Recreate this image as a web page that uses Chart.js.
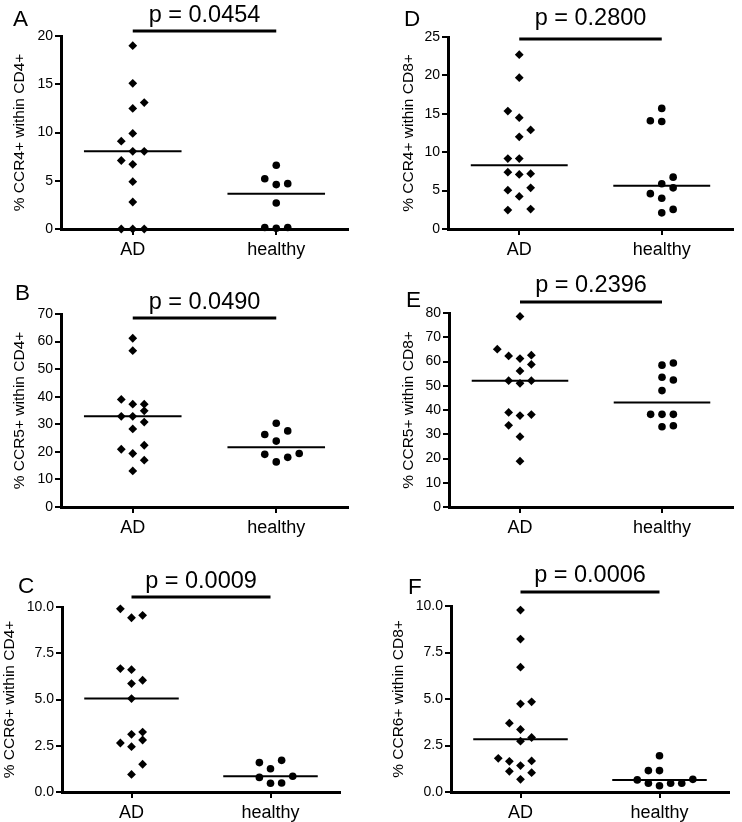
<!DOCTYPE html>
<html lang="en">
<head>
<meta charset="UTF-8" />
<title>CCR4 / CCR5 / CCR6 in AD vs healthy</title>
<script src="https://cdn.jsdelivr.net/npm/chart.js@4.4.1/dist/chart.umd.min.js"></script>
<style>
  html, body { margin: 0; padding: 0; background: #fff; }
  #wrap { position: relative; width: 742px; height: 822px; }
  #wrap canvas { position: absolute; }
</style>
</head>
<body>
<div id="wrap">
  <canvas id="cA" width="371" height="270" style="left:0;top:0"></canvas>
  <canvas id="cB" width="371" height="270" style="left:0;top:270px"></canvas>
  <canvas id="cC" width="371" height="282" style="left:0;top:540px"></canvas>
  <canvas id="cD" width="371" height="270" style="left:371px;top:0"></canvas>
  <canvas id="cE" width="371" height="270" style="left:371px;top:270px"></canvas>
  <canvas id="cF" width="371" height="282" style="left:371px;top:540px"></canvas>
</div>
<script>
const groups = ["AD", "healthy"];

// A - % CCR4+ within CD4+
const ccr4Cd4AD = [19.0, 15.1, 13.1, 12.5, 9.9, 9.1, 8.05, 8.05, 7.1, 6.7, 4.9, 2.8, 0, 0, 0];
const ccr4Cd4ADCol = [0, 0, 1, 0, 0, -1, 0, 1, -1, 0, 0, 0, -1, 0, 1];
const ccr4Cd4HC = [6.6, 5.2, 4.7, 4.6, 2.7, 0.15, 0.07, 0.15];
const ccr4Cd4HCCol = [0, -1, 1, 0, 0, -1, 0, 1];

// B - % CCR5+ within CD4+
const ccr5Cd4AD = [61.2, 56.7, 39.0, 37.3, 37.3, 34.9, 32.9, 32.9, 30.8, 28.3, 22.4, 20.95, 19.4, 17.0, 13.1];
const ccr5Cd4ADCol = [0, 0, -1, 0, 1, 1, -1, 0, 1, 0, 1, -1, 0, 1, 0];
const ccr5Cd4HC = [30.4, 27.6, 26.3, 23.9, 19.4, 19.1, 18.0, 16.35];
const ccr5Cd4HCCol = [0, 1, -1, 0, 2, -1, 1, 0];

// C - % CCR6+ within CD4+
const ccr6Cd4AD = [9.9, 9.55, 9.42, 6.67, 6.61, 6.04, 5.86, 5.05, 3.24, 3.12, 2.81, 2.65, 2.45, 1.5, 0.95];
const ccr6Cd4ADCol = [-1, 1, 0, -1, 0, 1, 0, 0, 1, 0, 1, -1, 0, 1, 0];
const ccr6Cd4HC = [1.71, 1.59, 1.26, 0.85, 0.79, 0.49, 0.47];
const ccr6Cd4HCCol = [1, -1, 0, 2, -1, 1, 0];

// D - % CCR4+ within CD8+
const ccr4Cd8AD = [22.7, 19.7, 15.35, 14.5, 12.9, 12.0, 9.17, 9.17, 7.4, 7.2, 7.1, 5.36, 5.06, 4.24, 2.6, 2.47];
const ccr4Cd8ADCol = [0, 0, -1, 0, 1, 0, -1, 0, -1, 1, 0, 1, -1, 0, 1, -1];
const ccr4Cd8HC = [15.7, 14.1, 14.0, 6.75, 5.9, 5.36, 4.6, 4.0, 2.55, 2.1];
const ccr4Cd8HCCol = [0, -1, 0, 1, 0, 1, -1, 0, 1, 0];

// E - % CCR5+ within CD8+
const ccr5Cd8AD = [78.6, 65.1, 62.6, 62.3, 61.2, 58.8, 56.1, 52.1, 52.1, 51.0, 39.0, 38.1, 37.7, 33.7, 29.0, 18.9];
const ccr5Cd8ADCol = [0, -2, 1, -1, 0, 1, 0, -1, 1, 0, -1, 1, 0, -1, 0, 0];
const ccr5Cd8HC = [59.4, 58.5, 53.5, 52.4, 48.0, 38.2, 38.2, 38.2, 33.5, 33.1];
const ccr5Cd8HCCol = [1, 0, 0, 1, 0, -1, 0, 1, 1, 0];

// F - % CCR6+ within CD8+
const ccr6Cd8AD = [9.78, 8.22, 6.71, 4.85, 4.74, 3.70, 3.36, 2.93, 2.73, 1.81, 1.67, 1.65, 1.42, 1.11, 1.04, 0.68];
const ccr6Cd8ADCol = [0, 0, 0, 1, 0, -1, 0, 1, 0, -2, 1, -1, 0, -1, 1, 0];
const ccr6Cd8HC = [1.95, 1.15, 1.15, 0.68, 0.65, 0.47, 0.47, 0.47, 0.34];
const ccr6Cd8HCCol = [0, -1, 0, 3, -2, -1, 1, 2, 0];

const FONT = "'Liberation Sans', Arial, sans-serif";
const SLOT = 0.08;   // jitter step, x units
const HALF = 0.34;   // half width of median bar

function median(arr) {
  const s = [...arr].sort((a, b) => a - b);
  const m = Math.floor(s.length / 2);
  return s.length % 2 ? s[m] : (s[m - 1] + s[m]) / 2;
}

function pts(vals, cols, g) {
  return vals.map((v, i) => ({ x: g + cols[i] * SLOT, y: v }));
}

// significance bar, p value and panel letter
const sigPlugin = {
  id: "sig",
  afterDraw(chart, args, o) {
    const { ctx, chartArea: a, scales: { x } } = chart;
    const x1 = x.getPixelForValue(1), x2 = x.getPixelForValue(2);
    const y = a.top + o.barDy;
    ctx.save();
    ctx.strokeStyle = "#000";
    ctx.lineWidth = 3;
    ctx.beginPath();
    ctx.moveTo(x1, y);
    ctx.lineTo(x2, y);
    ctx.stroke();
    ctx.fillStyle = "#000";
    ctx.textBaseline = "alphabetic";
    ctx.textAlign = "center";
    ctx.font = "23.5px " + FONT;
    ctx.fillText(o.p, (x1 + x2) / 2, y - o.gap);
    ctx.textAlign = "left";
    ctx.font = "22.5px " + FONT;
    ctx.fillText(o.letter, a.left + o.lx, a.top + o.ly);
    ctx.restore();
  }
};

const panels = [
  { id: "cA", letter: "A", p: "p = 0.0454", title: "% CCR4+ within CD4+", ad: ccr4Cd4AD, adCol: ccr4Cd4ADCol, hc: ccr4Cd4HC, hcCol: ccr4Cd4HCCol,
    yMax: 20, step: 5, dec: 0, top: 36, right: 23, yw: 61, xh: 41, tp: 10.7, barDy: -5, gap: 9.3, lx: -48, ly: -10 },
  { id: "cB", letter: "B", p: "p = 0.0490", title: "% CCR5+ within CD4+", ad: ccr5Cd4AD, adCol: ccr5Cd4ADCol, hc: ccr5Cd4HC, hcCol: ccr5Cd4HCCol,
    yMax: 70, step: 10, dec: 0, top: 44, right: 23, yw: 61, xh: 33, tp: 10.7, barDy: 4, gap: 9, lx: -46, ly: -14 },
  { id: "cC", letter: "C", p: "p = 0.0009", title: "% CCR6+ within CD4+", ad: ccr6Cd4AD, adCol: ccr6Cd4ADCol, hc: ccr6Cd4HC, hcCol: ccr6Cd4HCCol,
    yMax: 10, step: 2.5, dec: 1, top: 67, right: 31, yw: 62, xh: 30, tp: 0.7, barDy: -10, gap: 9, lx: -44, ly: -14 },
  { id: "cD", letter: "D", p: "p = 0.2800", title: "% CCR4+ within CD8+", ad: ccr4Cd8AD, adCol: ccr4Cd8ADCol, hc: ccr4Cd8HC, hcCol: ccr4Cd8HCCol,
    yMax: 25, step: 5, dec: 0, top: 37, right: 9, yw: 77, xh: 41, tp: 28.7, barDy: 2, gap: 14, lx: -44, ly: -11 },
  { id: "cE", letter: "E", p: "p = 0.2396", title: "% CCR5+ within CD8+", ad: ccr5Cd8AD, adCol: ccr5Cd8ADCol, hc: ccr5Cd8HC, hcCol: ccr5Cd8HCCol,
    yMax: 80, step: 10, dec: 0, top: 43, right: 9, yw: 78, xh: 33, tp: 28.7, barDy: -11, gap: 10, lx: -43, ly: -6 },
  { id: "cF", letter: "F", p: "p = 0.0006", title: "% CCR6+ within CD8+", ad: ccr6Cd8AD, adCol: ccr6Cd8ADCol, hc: ccr6Cd8HC, hcCol: ccr6Cd8HCCol,
    yMax: 10, step: 2.5, dec: 1, top: 66, right: 13, yw: 80, xh: 30, tp: 18.7, barDy: -14, gap: 10, lx: -43, ly: -12 }
];

const axisGrid = { drawOnChartArea: false, drawTicks: true, tickLength: 6, color: "#000", lineWidth: 2 };
const axisBorder = { display: true, color: "#000", width: 3 };

panels.forEach(p => {
  const mAD = median(p.ad), mHC = median(p.hc);
  new Chart(document.getElementById(p.id), {
    type: "scatter",
    data: {
      datasets: [
        { data: pts(p.ad, p.adCol, 1), pointStyle: "rectRot", pointRadius: 4.4, backgroundColor: "#000", borderWidth: 0, clip: false },
        { data: pts(p.hc, p.hcCol, 2), pointStyle: "circle", pointRadius: 3.8, backgroundColor: "#000", borderWidth: 0, clip: false },
        { data: [{ x: 1 - HALF, y: mAD }, { x: 1 + HALF, y: mAD }], showLine: true, borderColor: "#000", borderWidth: 2, pointRadius: 0, clip: false },
        { data: [{ x: 2 - HALF, y: mHC }, { x: 2 + HALF, y: mHC }], showLine: true, borderColor: "#000", borderWidth: 2, pointRadius: 0, clip: false }
      ]
    },
    options: {
      responsive: false,
      animation: false,
      layout: { padding: { top: p.top, right: p.right, left: 0, bottom: 0 } },
      plugins: {
        legend: { display: false },
        tooltip: { enabled: false },
        sig: { p: p.p, letter: p.letter, barDy: p.barDy, gap: p.gap, lx: p.lx, ly: p.ly }
      },
      scales: {
        x: {
          type: "linear", min: 0.5, max: 2.5,
          afterBuildTicks: s => { s.ticks = [{ value: 1 }, { value: 2 }]; },
          afterFit: s => { s.height = p.xh; },
          ticks: { callback: v => groups[v - 1], color: "#000", font: { family: FONT, size: 18 }, padding: 4, maxRotation: 0, autoSkip: false },
          grid: axisGrid,
          border: axisBorder
        },
        y: {
          min: 0, max: p.yMax,
          afterFit: s => { s.width = p.yw; },
          ticks: { stepSize: p.step, callback: v => v.toFixed(p.dec), color: "#000", font: { family: FONT, size: 14 }, padding: 2 },
          grid: axisGrid,
          border: axisBorder,
          title: { display: true, text: p.title, color: "#000", font: { family: FONT, size: 15.5 }, padding: { top: p.tp, bottom: 0 } }
        }
      }
    },
    plugins: [sigPlugin]
  });
});
</script>
</body>
</html>
